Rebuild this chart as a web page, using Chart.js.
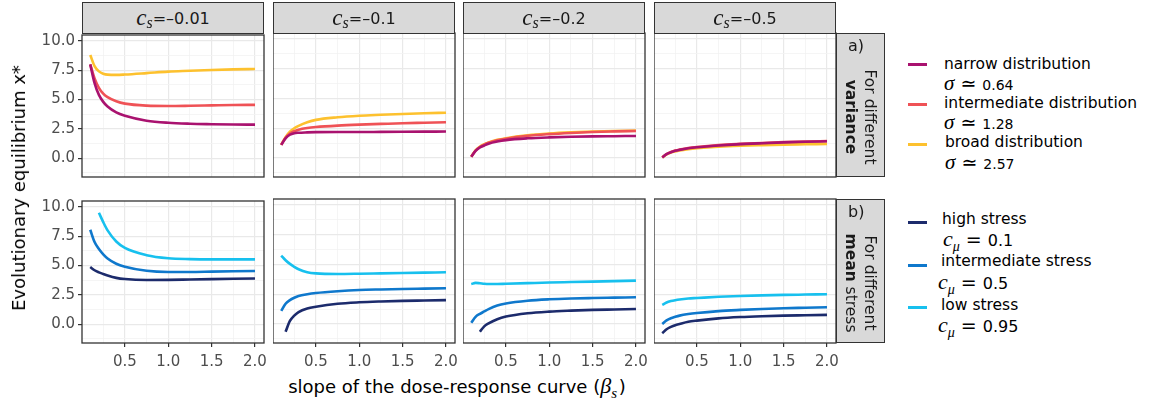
<!DOCTYPE html>
<html>
<head>
<meta charset="utf-8">
<script src="https://cdn.jsdelivr.net/npm/chart.js@4.4.1/dist/chart.umd.min.js"></script>
<style>
body{margin:0;background:#fff;width:1151px;height:405px;position:relative;overflow:hidden;font-family:"DejaVu Sans",sans-serif;color:#1a1a1a}
canvas{position:absolute}
.t{position:absolute;white-space:nowrap;line-height:1}
.strip{position:absolute;background:#d9d9d9;border:1.3px solid #333;box-sizing:border-box}
.hdr{display:flex;align-items:center;justify-content:center;font-size:16px}
.m{font-family:"Liberation Serif",serif;font-style:italic}
.key{position:absolute;width:19px;height:3px}
</style>
</head>
<body>
<script>
// slope of the dose-response curve (beta_s), shared x values of all curves
const beta = [0.1, 0.15, 0.2, 0.25, 0.3, 0.4, 0.5, 0.75, 1, 1.25, 1.5, 1.75, 2]
const csLabels = ["-0.01", "-0.1", "-0.2", "-0.5"]
const xTicks = [0.5, 1.0, 1.5, 2.0]
const yTicks = [0.0, 2.5, 5.0, 7.5, 10.0]

// a) different variance, one row per c_s panel
const narrow = [
  [8.0, 6.4, 5.4, 4.8, 4.4, 3.9, 3.62, 3.2, 3.02, 2.94, 2.9, 2.87, 2.86],
  [1.1, 1.65, 1.95, 2.08, 2.12, 2.15, 2.17, 2.18, 2.18, 2.19, 2.2, 2.21, 2.22],
  [0.1, 0.6, 0.88, 1.05, 1.2, 1.38, 1.5, 1.65, 1.73, 1.78, 1.81, 1.83, 1.85],
  [0.05, 0.32, 0.48, 0.6, 0.68, 0.81, 0.9, 1.05, 1.16, 1.24, 1.31, 1.36, 1.4]
]
const intermediate = [
  [8.0, 6.8, 6.0, 5.5, 5.2, 4.85, 4.65, 4.48, 4.45, 4.47, 4.5, 4.53, 4.55],
  [1.1, 1.7, 2.05, 2.25, 2.38, 2.52, 2.6, 2.72, 2.8, 2.86, 2.92, 2.96, 3.0],
  [0.1, 0.62, 0.92, 1.12, 1.27, 1.48, 1.62, 1.86, 2.0, 2.1, 2.18, 2.23, 2.27],
  [0.05, 0.33, 0.5, 0.62, 0.7, 0.83, 0.92, 1.08, 1.18, 1.26, 1.33, 1.38, 1.42]
]
const broad = [
  [8.8, 7.85, 7.4, 7.2, 7.12, 7.1, 7.13, 7.25, 7.38, 7.45, 7.52, 7.57, 7.6],
  [1.1, 1.75, 2.2, 2.5, 2.7, 3.0, 3.2, 3.42, 3.55, 3.63, 3.7, 3.76, 3.8],
  [0.1, 0.65, 0.95, 1.15, 1.3, 1.52, 1.66, 1.9, 2.05, 2.15, 2.22, 2.27, 2.3],
  [0.05, 0.3, 0.45, 0.55, 0.63, 0.74, 0.82, 0.95, 1.03, 1.08, 1.12, 1.15, 1.18]
]

// b) different mean stress
const highStress = [
  [4.87, 4.6, 4.42, 4.28, 4.15, 3.95, 3.85, 3.77, 3.78, 3.81, 3.84, 3.87, 3.9],
  [null, -0.65, 0.25, 0.7, 1.0, 1.3, 1.45, 1.7, 1.82, 1.89, 1.94, 1.97, 2.0],
  [null, null, -0.65, -0.2, 0.05, 0.4, 0.62, 0.9, 1.04, 1.12, 1.18, 1.22, 1.26],
  [-0.78, -0.45, -0.25, -0.1, 0.0, 0.18, 0.28, 0.47, 0.58, 0.65, 0.7, 0.73, 0.76]
]
const midStress = [
  [8.05, 7.0, 6.4, 5.95, 5.6, 5.15, 4.9, 4.55, 4.45, 4.45, 4.48, 4.51, 4.54],
  [1.1, 1.7, 2.0, 2.2, 2.35, 2.5, 2.6, 2.75, 2.85, 2.9, 2.94, 2.97, 3.0],
  [0.1, 0.6, 0.85, 1.05, 1.25, 1.55, 1.72, 1.95, 2.07, 2.14, 2.18, 2.21, 2.24],
  [0.0, 0.3, 0.48, 0.6, 0.7, 0.83, 0.92, 1.08, 1.18, 1.26, 1.32, 1.36, 1.4]
]
const lowStress = [
  [null, null, 9.5, 8.7, 8.0, 7.05, 6.5, 5.88, 5.62, 5.55, 5.53, 5.53, 5.53],
  [5.75, 5.35, 5.05, 4.8, 4.6, 4.35, 4.25, 4.2, 4.22, 4.25, 4.28, 4.31, 4.34],
  [3.35, 3.45, 3.42, 3.38, 3.36, 3.36, 3.38, 3.43, 3.48, 3.52, 3.56, 3.6, 3.64],
  [1.6, 1.8, 1.92, 2.0, 2.06, 2.14, 2.18, 2.28, 2.35, 2.4, 2.44, 2.47, 2.5]
]

const varSeries = [
  {data: narrow, color: "#a9126f"},
  {data: intermediate, color: "#ef5256"},
  {data: broad, color: "#fdc12e"}
]
const meanSeries = [
  {data: highStress, color: "#1c2b6c"},
  {data: midStress, color: "#0f78cc"},
  {data: lowStress, color: "#17c0ee"}
]

// layout of the facet grid
const panelLeft = [82, 273, 463, 654]
const rowTop = [33, 199]
const panelW = 182, panelH = 144
const xMin = 0.005, xMax = 2.104, yMin = -1.6, yMax = 10.5

const isMult = (v, s) => Math.abs(v / s - Math.round(v / s)) < 1e-6

const frame = {
  id: "frame",
  afterDraw(chart){
    const a = chart.chartArea, c = chart.ctx
    c.save()
    c.strokeStyle = "#333333"
    c.lineWidth = 1.3
    c.strokeRect(a.left, a.top, a.right - a.left, a.bottom - a.top)
    c.restore()
  }
}

function panel(row, col, series){
  const padL = col === 0 ? 62 : 0
  const padB = row === 1 ? 30 : 14
  const cv = document.createElement("canvas")
  cv.width = panelW + padL + 12
  cv.height = panelH + 10 + padB
  cv.style.left = (panelLeft[col] - padL) + "px"
  cv.style.top = (rowTop[row] - 10) + "px"
  document.body.appendChild(cv)

  new Chart(cv, {
    type: "line",
    data: {
      datasets: series.map(s => ({
        data: s.data[col].map((v, i) => ({x: beta[i], y: v})),
        borderColor: s.color,
        borderWidth: 2.6,
        pointRadius: 0,
        cubicInterpolationMode: "monotone",
        fill: false
      }))
    },
    options: {
      responsive: false,
      animation: false,
      layout: {padding: {top: 10, right: 12, left: 0, bottom: 0}},
      plugins: {legend: {display: false}, tooltip: {enabled: false}},
      scales: {
        x: {
          type: "linear", min: xMin, max: xMax,
          border: {display: false},
          grid: {
            color: c => isMult(c.tick.value, 0.5) ? "#e9e9e9" : "#f2f2f2",
            lineWidth: c => isMult(c.tick.value, 0.5) ? 1.2 : 0.8,
            drawTicks: row === 1, tickLength: 4,
            tickColor: c => isMult(c.tick.value, 0.5) ? "#333333" : "rgba(0,0,0,0)"
          },
          ticks: {
            display: row === 1, stepSize: 0.25, includeBounds: false, autoSkip: false, maxRotation: 0,
            padding: 6, color: "#4d4d4d", font: {family: "DejaVu Sans", size: 15},
            callback: v => xTicks.find(t => Math.abs(t - v) < 1e-6) !== undefined ? v.toFixed(1) : ""
          },
          afterFit: s => { s.height = padB }
        },
        y: {
          type: "linear", min: yMin, max: yMax,
          border: {display: false},
          grid: {
            color: c => isMult(c.tick.value, 2.5) ? "#e9e9e9" : "#f2f2f2",
            lineWidth: c => isMult(c.tick.value, 2.5) ? 1.2 : 0.8,
            drawTicks: col === 0, tickLength: 4,
            tickColor: c => yTicks.some(t => Math.abs(t - c.tick.value) < 1e-6) ? "#333333" : "rgba(0,0,0,0)"
          },
          ticks: {
            display: col === 0, stepSize: 1.25, includeBounds: false, autoSkip: false,
            padding: 3, color: "#4d4d4d", font: {family: "DejaVu Sans", size: 15},
            callback: v => yTicks.find(t => Math.abs(t - v) < 1e-6) !== undefined ? v.toFixed(1) : ""
          },
          afterFit: s => { s.width = padL }
        }
      }
    },
    plugins: [frame]
  })
}

for (let col = 0; col < 4; col++){
  panel(0, col, varSeries)
  panel(1, col, meanSeries)
}

// facet strips on top
csLabels.forEach((lab, col) => {
  const d = document.createElement("div")
  d.className = "strip hdr"
  d.style.left = panelLeft[col] + "px"
  d.style.top = "2px"
  d.style.width = panelW + "px"
  d.style.height = "32px"
  d.innerHTML = '<span class="m" style="font-size:23px">c</span><span class="m" style="font-size:16px;position:relative;top:5px">s</span><span style="font-size:16px">=' + lab.replace("-", "\u2013") + '</span>'
  document.body.appendChild(d)
})
</script>

<!-- row strips -->
<div class="strip" style="left:836px;top:33px;width:49px;height:144px"></div>
<div class="strip" style="left:836px;top:199px;width:49px;height:144px"></div>
<div class="t" style="left:848px;top:38px;font-size:16px">a)</div>
<div class="t" style="left:860px;top:117px;font-size:15.5px;line-height:19px;text-align:center;transform:translate(-50%,-50%) rotate(90deg)">For different<br><b>variance</b></div>
<div class="t" style="left:848px;top:204px;font-size:16px">b)</div>
<div class="t" style="left:860px;top:283px;font-size:15.5px;line-height:19px;text-align:center;transform:translate(-50%,-50%) rotate(90deg)">For different<br><b>mean</b> stress</div>

<!-- axis titles -->
<div class="t" style="left:19px;top:188px;font-size:18px;color:#000;transform:translate(-50%,-50%) rotate(-90deg)">Evolutionary equilibrium x*</div>
<div class="t" style="left:457px;top:386px;font-size:18px;color:#000;transform:translate(-50%,-50%)">slope of the dose-response curve (<span class="m" style="font-size:22px">β</span><span class="m" style="font-size:15px;position:relative;top:5px">s</span>&#8202;)</div>

<!-- legend a -->
<div class="key" style="left:908px;top:63px;background:#a9126f"></div>
<div class="t" style="left:944px;top:57px;font-size:15.5px;color:#000">narrow distribution</div>
<div class="t" style="left:944px;top:73px;font-size:19px;color:#000"><span class="m" style="font-size:21px">σ</span> ≃ <span style="font-size:14px">0.64</span></div>
<div class="key" style="left:908px;top:103px;background:#ef5256"></div>
<div class="t" style="left:944px;top:96px;font-size:15.5px;color:#000">intermediate distribution</div>
<div class="t" style="left:944px;top:112px;font-size:19px;color:#000"><span class="m" style="font-size:21px">σ</span> ≃ <span style="font-size:14px">1.28</span></div>
<div class="key" style="left:908px;top:143px;background:#fdc12e"></div>
<div class="t" style="left:945px;top:135px;font-size:15.5px;color:#000">broad distribution</div>
<div class="t" style="left:945px;top:152px;font-size:19px;color:#000"><span class="m" style="font-size:21px">σ</span> ≃ <span style="font-size:14px">2.57</span></div>

<!-- legend b -->
<div class="key" style="left:908px;top:221px;background:#1c2b6c"></div>
<div class="t" style="left:942px;top:212px;font-size:15.5px;color:#000">high stress</div>
<div class="t" style="left:943px;top:228px;font-size:19px;color:#000"><span class="m" style="font-size:22px">c</span><span class="m" style="font-size:14px;position:relative;top:5px">μ</span> = <span style="font-size:16px">0.1</span></div>
<div class="key" style="left:908px;top:264px;background:#0f78cc"></div>
<div class="t" style="left:941px;top:254px;font-size:15.5px;color:#000">intermediate stress</div>
<div class="t" style="left:938px;top:271px;font-size:19px;color:#000"><span class="m" style="font-size:22px">c</span><span class="m" style="font-size:14px;position:relative;top:5px">μ</span> = <span style="font-size:16px">0.5</span></div>
<div class="key" style="left:908px;top:306px;background:#17c0ee"></div>
<div class="t" style="left:941px;top:298px;font-size:15.5px;color:#000">low stress</div>
<div class="t" style="left:938px;top:314px;font-size:19px;color:#000"><span class="m" style="font-size:22px">c</span><span class="m" style="font-size:14px;position:relative;top:5px">μ</span> = <span style="font-size:16px">0.95</span></div>
</body>
</html>
